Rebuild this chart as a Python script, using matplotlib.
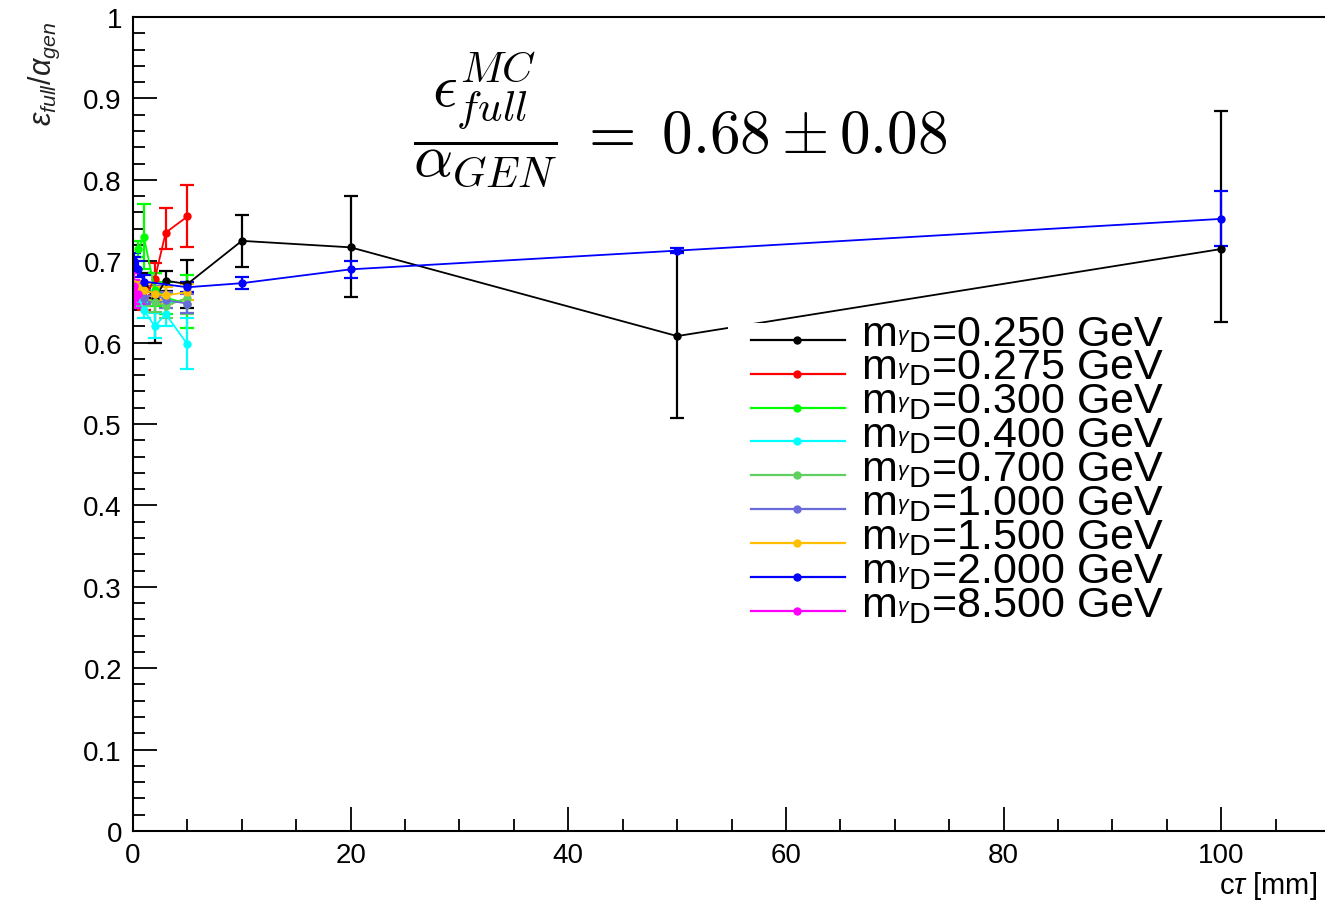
import matplotlib.pyplot as plt
import numpy as np
from matplotlib.lines import Line2D
from matplotlib.patches import Rectangle

plt.rcParams['font.family'] = ['Liberation Sans', 'DejaVu Sans']
plt.rcParams['mathtext.fontset'] = 'custom'
plt.rcParams['mathtext.rm'] = 'Liberation Sans'
plt.rcParams['mathtext.it'] = 'Liberation Sans:italic'

# efficiency ratio vs c*tau for each dark photon mass
masses = ['0.250', '0.275', '0.300', '0.400', '0.700', '1.000', '1.500', '2.000', '8.500']
colors = ['black', '#ff0000', '#00ff00', '#00ffff', '#5fcf5f', '#6a6ad8', '#ffbf00', '#0000ff', '#ff00ff']

ct_250 = [0.5, 1, 2, 3, 5, 10, 20, 50, 100]
ef_250 = [0.665, 0.670, 0.655, 0.676, 0.672, 0.725, 0.717, 0.608, 0.715]
lo_250 = [0.010, 0.015, 0.055, 0.012, 0.030, 0.032, 0.061, 0.101, 0.090]
hi_250 = [0.010, 0.015, 0.030, 0.012, 0.030, 0.032, 0.063, 0.103, 0.169]

ct_275 = [1, 2, 3, 5]
ef_275 = [0.655, 0.678, 0.735, 0.755]
lo_275 = [0.015, 0.020, 0.020, 0.037]
hi_275 = [0.015, 0.020, 0.030, 0.039]

ct_300 = [0.5, 1, 2, 3, 5]
ef_300 = [0.715, 0.730, 0.665, 0.655, 0.648]
lo_300 = [0.010, 0.040, 0.020, 0.020, 0.030]
hi_300 = [0.010, 0.040, 0.020, 0.020, 0.035]

ct_400 = [0.5, 1, 2, 3, 5]
ef_400 = [0.655, 0.640, 0.620, 0.635, 0.598]
lo_400 = [0.010, 0.010, 0.014, 0.015, 0.030]
hi_400 = [0.010, 0.010, 0.016, 0.015, 0.032]

ct_700 = [0.5, 1, 2, 3, 5]
ef_700 = [0.662, 0.655, 0.650, 0.645, 0.655]
lo_700 = [0.008, 0.010, 0.012, 0.015, 0.020]
hi_700 = [0.008, 0.010, 0.012, 0.015, 0.020]

ct_1000 = [0.1, 0.5, 1, 2, 3, 5]
ef_1000 = [0.665, 0.660, 0.655, 0.660, 0.652, 0.648]
lo_1000 = [0.008, 0.008, 0.008, 0.010, 0.010, 0.012]
hi_1000 = [0.008, 0.008, 0.008, 0.010, 0.010, 0.012]

ct_1500 = [0.1, 0.5, 1, 2, 3, 5]
ef_1500 = [0.672, 0.668, 0.665, 0.660, 0.658, 0.662]
lo_1500 = [0.008, 0.008, 0.008, 0.008, 0.010, 0.010]
hi_1500 = [0.008, 0.008, 0.008, 0.008, 0.010, 0.010]

ct_2000 = [0.05, 0.1, 0.5, 1, 5, 10, 20, 50, 100]
ef_2000 = [0.700, 0.695, 0.690, 0.675, 0.668, 0.673, 0.690, 0.713, 0.752]
lo_2000 = [0.010, 0.010, 0.010, 0.008, 0.006, 0.007, 0.011, 0.003, 0.033]
hi_2000 = [0.010, 0.010, 0.010, 0.008, 0.006, 0.007, 0.010, 0.003, 0.034]

ct_8500 = [0.0, 0.05, 0.1, 0.2, 0.5]
ef_8500 = [0.665, 0.660, 0.670, 0.655, 0.660]
lo_8500 = [0.012, 0.012, 0.012, 0.012, 0.012]
hi_8500 = [0.012, 0.012, 0.015, 0.012, 0.012]

series = [
    (ct_250, ef_250, lo_250, hi_250),
    (ct_275, ef_275, lo_275, hi_275),
    (ct_300, ef_300, lo_300, hi_300),
    (ct_400, ef_400, lo_400, hi_400),
    (ct_700, ef_700, lo_700, hi_700),
    (ct_1000, ef_1000, lo_1000, hi_1000),
    (ct_1500, ef_1500, lo_1500, hi_1500),
    (ct_2000, ef_2000, lo_2000, hi_2000),
    (ct_8500, ef_8500, lo_8500, hi_8500),
]

W, H = 1325, 903
fig = plt.figure(figsize=(W / 100, H / 100), dpi=100)
# axes frame runs past the right edge of the picture, as in the original
ax = fig.add_axes([133 / W, 1 - 832 / H, (1439 - 133) / W, (832 - 18) / H])

for (x, y, lo, hi), c in zip(series, colors):
    ax.errorbar(x, y, yerr=[lo, hi], color=c, marker='o', markersize=5,
                lw=1.3, elinewidth=1.6, capsize=5, capthick=1.6)

ax.set_xlim(0, 120)
ax.set_ylim(0, 1)
ax.set_xticks(np.arange(0, 121, 20))
ax.set_xticks(np.arange(0, 121, 5), minor=True)
ax.set_xticklabels(['0', '20', '40', '60', '80', '100', ''])
ax.set_yticks(np.arange(0, 1.01, 0.1))
ax.set_yticks(np.arange(0, 1.001, 0.02), minor=True)
ax.set_yticklabels(['0', '0.1', '0.2', '0.3', '0.4', '0.5', '0.6', '0.7', '0.8', '0.9', '1'])
ax.tick_params(which='both', direction='in', width=1.3, labelsize=20, pad=8)
ax.tick_params(which='major', length=17)
ax.tick_params(which='minor', length=8.5)
for s in ax.spines.values():
    s.set_linewidth(1.5)

# axis titles, ROOT style
fig.text(44 / W, 1 - 74 / H, r'$\varepsilon_{full}/\alpha_{gen}$', rotation=90,
         ha='center', va='center', fontsize=22, color='#222222')
fig.text(1219 / W, 1 - 886 / H, r'c$\tau$ [mm]', ha='left', va='center', fontsize=21)

# result text
fig.text(413 / W, 1 - 120 / H,
         r'$\dfrac{\epsilon^{MC}_{full}}{\alpha_{GEN}}\;=\;0.68\pm0.08$',
         math_fontfamily='cm', fontsize=44, ha='left', va='center')

# legend drawn by hand: white box, then line + marker + label per entry
fig.add_artist(Rectangle((728 / W, 1 - 645 / H), (1185 - 728) / W, (645 - 324) / H,
                         transform=fig.transFigure, facecolor='white', edgecolor='none', zorder=2))
for i, (m, c) in enumerate(zip(masses, colors)):
    yl = 1 - (340.7 + 33.9 * i) / H
    fig.add_artist(Line2D([751 / W, 845 / W], [yl, yl], color=c, lw=1.6,
                          transform=fig.transFigure, zorder=3))
    fig.add_artist(Line2D([797 / W], [yl], color=c, marker='o', markersize=5,
                          transform=fig.transFigure, zorder=3))
    fig.text(861 / W, yl - 5 / H, r'm$_{{}^{\gamma}\mathrm{D}}$=' + m + ' GeV',
             fontsize=31, ha='left', va='baseline', zorder=4)

fig.savefig('out.png', dpi=100)
